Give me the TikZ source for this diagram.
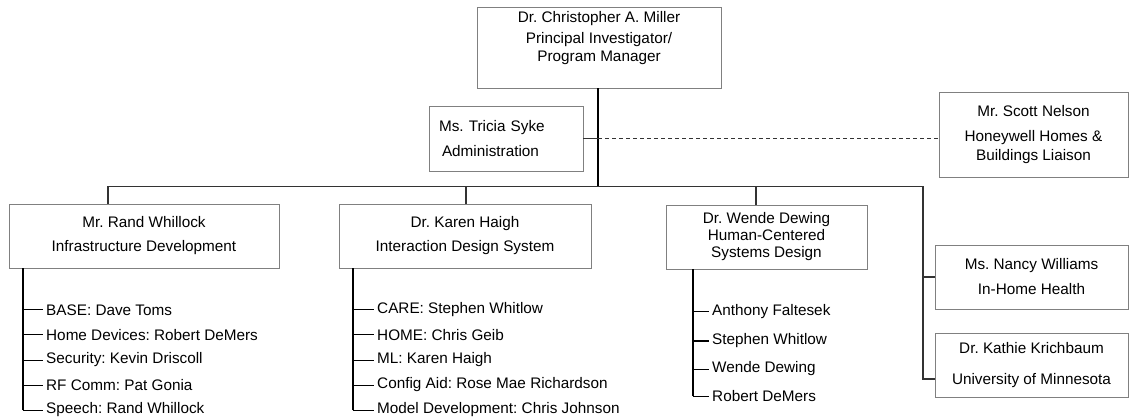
\documentclass[tikz,border=0pt]{standalone}
\usepackage{fontspec}
\setmainfont{Liberation Sans}
\usetikzlibrary{positioning}
\frenchspacing

\tikzset{
  orgbox/.style={draw=gray, line width=0.8pt, align=center, inner sep=0pt},
  member/.style={anchor=west, inner xsep=3pt},
  link/.style={draw=black!80, line width=1.3pt},
  stem/.style={draw=black, line width=2pt},
  twig/.style={draw=black, line width=1pt},
}

\begin{document}
\begin{tikzpicture}[x=1pt,y=-1pt,font=\fontsize{15.3}{18.5}\selectfont]
\useasboundingbox (0,0) rectangle (1129,419);

% boxes
\node[orgbox, minimum width=244pt, minimum height=81pt] (pi) at (599,47.5)
  {Dr. Christopher A. Miller\\[2.5pt] Principal Investigator/\\ Program Manager\\[4pt]};
\node[orgbox, minimum width=154pt, minimum height=65pt, align=left, text width=134pt] (admin) at (506,138.5)
  {Ms. Tricia Syke\\[6.5pt] \hspace*{3pt}Administration};
\node[orgbox, minimum width=189pt, minimum height=85pt] (liaison) at (1033.5,134.5)
  {Mr. Scott Nelson\\[6.5pt] Honeywell Homes \&\\ Buildings Liaison};
\node[orgbox, minimum width=270pt, minimum height=64pt] (infra) at (144,236)
  {Mr. Rand Whillock\\[5.5pt] Infrastructure Development};
\node[orgbox, minimum width=252pt, minimum height=64pt] (ids) at (465,236)
  {Dr. Karen Haigh\\[5.5pt] Interaction Design System};
\node[orgbox, minimum width=201pt, minimum height=64pt] (hcsd) at (766.5,237)
  {Dr. Wende Dewing\\[-1.5pt] Human-Centered\\[-1.5pt] Systems Design};
\node[orgbox, minimum width=193pt, minimum height=64pt] (health) at (1031.5,277)
  {Ms. Nancy Williams\\[6.5pt] In-Home Health};
\node[orgbox, minimum width=193pt, minimum height=64pt] (umn) at (1031.5,365)
  {Dr. Kathie Krichbaum\\[12.5pt] University of Minnesota};

% bus
\coordinate (hub) at (598,186.5);
\coordinate (b1) at (108,186.5);
\coordinate (b2) at (466,186.5);
\coordinate (b3) at (756,186.5);
\coordinate (b4) at (923,186.5);
\coordinate (b5) at (923,379);

\draw[stem] (pi.south -| hub) -- (hub);
\draw[link] (b1) -- (b4);
\draw[link] (b1) -- (b1 |- infra.north);
\draw[link] (b2) -- (b2 |- ids.north);
\draw[link] (b3) -- (b3 |- hcsd.north);
\draw[link] (b4) -- (b5) -- (b5 -| umn.west);
\draw[link] (b4 |- health.west) -- (health.west);
\draw[link] (admin.east) -- (admin.east -| hub);
\draw[link, line width=1pt, dash pattern=on 4pt off 3pt] (admin.east -| hub) -- (admin.east -| liaison.west);

% lists
\foreach \txt [count=\i] in {BASE: Dave Toms, Home Devices: Robert DeMers,
    Security: Kevin Driscoll, RF Comm: Pat Gonia, Speech: Rand Whillock}
  \node[member] (inf\i) at (43,285+25*\i) {\txt};
\foreach \txt [count=\i] in {CARE: Stephen Whitlow, HOME: Chris Geib, ML: Karen Haigh,
    Config Aid: Rose Mae Richardson, Model Development: Chris Johnson}
  \node[member] (ids\i) at (374,285+25*\i) {\txt};
\foreach \txt/\y [count=\i] in {Anthony Faltesek/312, Stephen Whitlow/341,
    Wende Dewing/369, Robert DeMers/396}
  \node[member] (hcs\i) at (709,\y) {\txt};

\coordinate (infL) at ([xshift=14pt]infra.south west);
\coordinate (idsL) at ([xshift=14pt]ids.south west);
\coordinate (hcsL) at ([xshift=27pt]hcsd.south west);

\draw[stem] (infL) -- (infL |- inf5.west);
\draw[stem] (idsL) -- (idsL |- ids5.west);
\draw[stem] (hcsL) -- (hcsL |- hcs4.west);
\foreach \i in {1,...,5} {
  \draw[twig] (infL |- inf\i.west) -- (inf\i.west);
  \draw[twig] (idsL |- ids\i.west) -- (ids\i.west);
}
\foreach \i in {1,...,4}
  \draw[twig] (hcsL |- hcs\i.west) -- (hcs\i.west);

\end{tikzpicture}
\end{document}
